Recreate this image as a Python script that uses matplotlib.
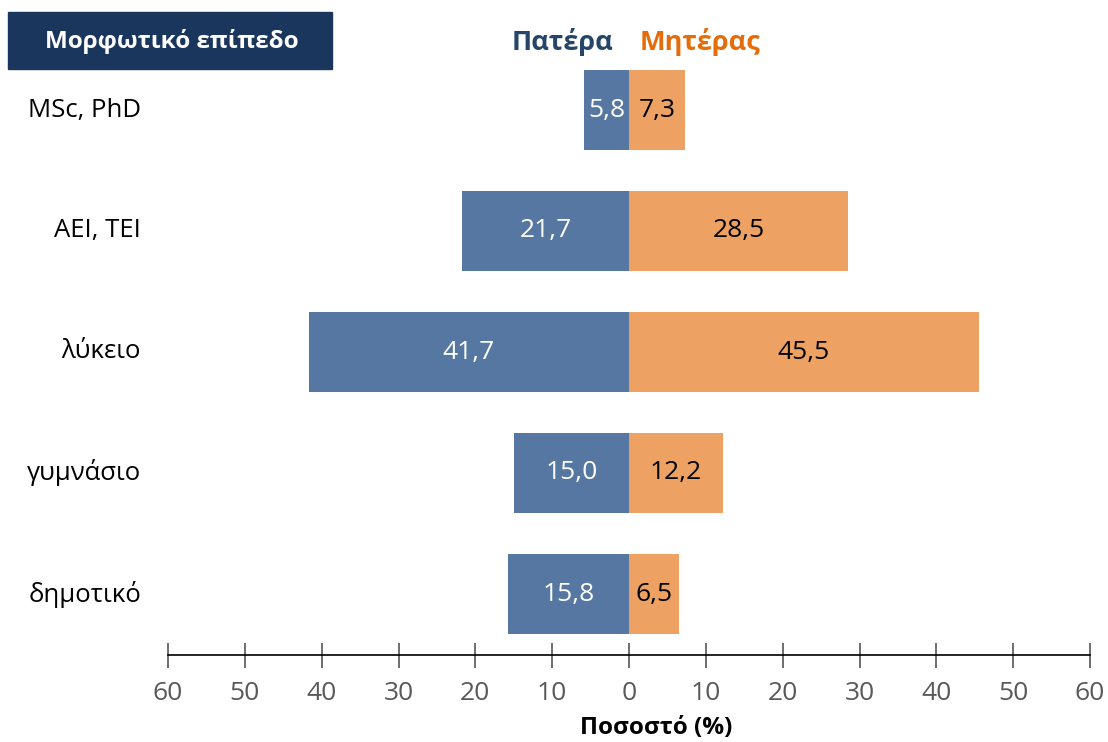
import matplotlib.pyplot as plt
import numpy as np

plt.rcParams['font.family'] = ['Open Sans', 'DejaVu Sans']

# επίπεδα εκπαίδευσης, από κάτω προς τα πάνω
levels = ['δημοτικό', 'γυμνάσιο', 'λύκειο', 'ΑΕΙ, ΤΕΙ', 'MSc, PhD']
father = [15.8, 15.0, 41.7, 21.7, 5.8]
mother = [6.5, 12.2, 45.5, 28.5, 7.3]
ticks = [-60, -50, -40, -30, -20, -10, 0, 10, 20, 30, 40, 50, 60]

blue = '#5577a1'
orange = '#eda263'

W, H = 1108, 742
fig = plt.figure(figsize=(W / 100, H / 100), dpi=100)
ax = fig.add_axes([168 / W, 1 - 654.5 / H, 922 / W, (654.5 - 49.5) / H])

y = np.arange(len(levels))
ax.barh(y, [-v for v in father], height=0.66, color=blue)
ax.barh(y, mother, height=0.66, color=orange)

def fmt(v):
    return f'{v:.1f}'.replace('.', ',')

# τιμές μέσα στις μπάρες
for i in range(len(levels)):
    ax.text(-father[i] / 2, y[i], fmt(father[i]), ha='center', va='center',
            color='white', fontsize=19)
    ax.text(mother[i] / 2, y[i], fmt(mother[i]), ha='center', va='center',
            color='black', fontsize=19)
    ax.text(-63.5, y[i], levels[i], ha='right', va='center', color='black',
            fontsize=18.5, clip_on=False)

ax.set_xlim(-60, 60)
ax.set_ylim(-0.5, 4.5)
ax.set_xticks(ticks)
ax.set_xticklabels([str(abs(t)) for t in ticks])
ax.set_yticks([])
ax.tick_params(axis='x', direction='inout', length=18, width=1.2,
               color='#555555', labelcolor='#595959', labelsize=19, pad=10)
for s in ['top', 'right', 'left']:
    ax.spines[s].set_visible(False)
ax.spines['bottom'].set_linewidth(1.2)
ax.set_xlabel('Ποσοστό (%)', fontsize=17.5, fontweight='bold')
ax.xaxis.set_label_coords(0.530, -0.1215)
ax.xaxis.label.set_va('center')

# κεφαλίδες
fig.patches.append(plt.Rectangle((8 / W, 1 - 69 / H), 324 / W, 57 / H,
                                 transform=fig.transFigure, color='#1b365d'))
fig.text(172 / W, 1 - 42 / H, 'Μορφωτικό επίπεδο', ha='center', va='center',
         color='white', fontsize=17.5, fontweight='bold')
fig.text(613 / W, 1 - 42 / H, 'Πατέρα', ha='right', va='center',
         color='#254669', fontsize=19.5, fontweight='bold')
fig.text(640 / W, 1 - 42 / H, 'Μητέρας', ha='left', va='center',
         color='#e46c0a', fontsize=19.5, fontweight='bold')

fig.savefig('out.png', dpi=100)
